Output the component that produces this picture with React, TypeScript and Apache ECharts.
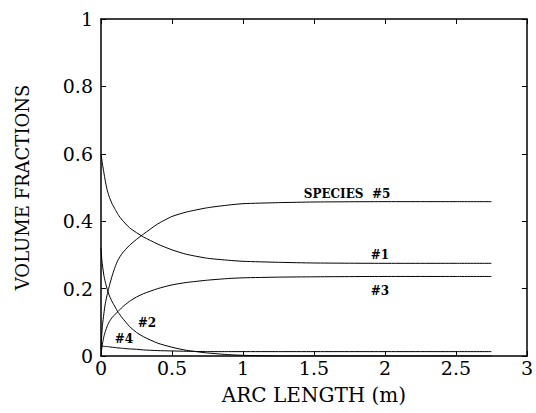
import React, { useEffect, useRef } from "react";
import * as echarts from "echarts";

const xs = [0, 0.005, 0.01, 0.02, 0.03, 0.045, 0.06, 0.08, 0.1, 0.12, 0.15, 0.2, 0.25, 0.3, 0.4, 0.5, 0.6, 0.75, 0.9, 1, 1.25, 1.5, 2, 2.5, 2.75];
const species1 = [0.6, 0.585, 0.57, 0.545, 0.52, 0.49, 0.47, 0.45, 0.435, 0.42, 0.403, 0.381, 0.366, 0.353, 0.332, 0.315, 0.302, 0.29, 0.284, 0.281, 0.278, 0.276, 0.275, 0.275, 0.275];
const species2 = [0.32, 0.29, 0.27, 0.24, 0.22, 0.196, 0.178, 0.16, 0.145, 0.13, 0.113, 0.088, 0.07, 0.057, 0.038, 0.026, 0.017, 0.009, 0.004, 0.002, 0, 0, 0, 0, 0];
const species3 = [0, 0.02, 0.035, 0.057, 0.072, 0.09, 0.103, 0.115, 0.124, 0.132, 0.145, 0.162, 0.175, 0.185, 0.2, 0.211, 0.218, 0.225, 0.23, 0.232, 0.234, 0.235, 0.236, 0.236, 0.236];
const species4 = [0.03, 0.03, 0.029, 0.029, 0.028, 0.028, 0.027, 0.026, 0.025, 0.024, 0.023, 0.021, 0.02, 0.018, 0.016, 0.015, 0.014, 0.013, 0.013, 0.013, 0.013, 0.013, 0.013, 0.013, 0.013];
const species5 = [0.02, 0.06, 0.09, 0.125, 0.155, 0.185, 0.21, 0.24, 0.265, 0.285, 0.305, 0.328, 0.346, 0.362, 0.392, 0.414, 0.427, 0.44, 0.448, 0.452, 0.455, 0.457, 0.458, 0.458, 0.458];

const seriesList = [
  { name: "#1", values: species1 },
  { name: "#2", values: species2 },
  { name: "#3", values: species3 },
  { name: "#4", values: species4 },
  { name: "#5", values: species5 },
];

const curveLabels = [
  { text: "SPECIES  #5", x: 347, y: 194 },
  { text: "#1", x: 380, y: 255 },
  { text: "#3", x: 380, y: 291 },
  { text: "#2", x: 147, y: 323 },
  { text: "#4", x: 124, y: 339 },
];

const FONT = "DejaVu Serif";

export default function App() {
  const ref = useRef<HTMLDivElement>(null);
  useEffect(() => {
    document.body.style.margin = "0";
    const chart = echarts.init(ref.current!, undefined, { renderer: "svg" });
    const axisCommon = {
      type: "value" as const,
      min: 0,
      axisLine: { show: true, onZero: false, lineStyle: { color: "#000", width: 1.5 } },
      axisTick: { show: true, inside: true, length: 5, lineStyle: { color: "#000" } },
      splitLine: { show: false },
    };
    chart.setOption({
      animation: false,
      backgroundColor: "#fff",
      textStyle: { fontFamily: FONT, color: "#000" },
      grid: { left: 101, top: 19, right: 7, bottom: 57 },
      xAxis: [
        {
          ...axisCommon,
          max: 3,
          interval: 0.5,
          position: "bottom",
          axisLabel: { color: "#000", fontFamily: FONT, fontSize: 19, margin: 2 },
          name: "ARC LENGTH (m)",
          nameLocation: "middle",
          nameGap: 29,
          nameTextStyle: { color: "#000", fontFamily: FONT, fontSize: 20 },
        },
        {
          ...axisCommon,
          max: 3,
          interval: 0.5,
          position: "top",
          axisLabel: { show: false },
        },
      ],
      yAxis: [
        {
          ...axisCommon,
          max: 1,
          interval: 0.2,
          position: "left",
          axisLabel: { color: "#000", fontFamily: FONT, fontSize: 19, margin: 8 },
          name: "VOLUME FRACTIONS",
          nameLocation: "middle",
          nameGap: 70,
          nameTextStyle: { color: "#000", fontFamily: FONT, fontSize: 18 },
        },
        {
          ...axisCommon,
          max: 1,
          interval: 0.2,
          position: "right",
          axisLabel: { show: false },
        },
      ],
      series: seriesList.map((s) => ({
        type: "line",
        name: s.name,
        data: xs.map((x, i) => [x, s.values[i]]),
        smooth: 0.2,
        showSymbol: false,
        symbol: "none",
        lineStyle: { color: "#000", width: 1 },
        xAxisIndex: 0,
        yAxisIndex: 0,
      })),
      graphic: curveLabels.map((l) => ({
        type: "text",
        x: l.x,
        y: l.y,
        style: {
          text: l.text,
          fill: "#000",
          font: `bold 12px ${FONT}`,
          textAlign: "center",
          textVerticalAlign: "middle",
        },
      })),
    });
    return () => chart.dispose();
  }, []);
  return <div ref={ref} style={{ width: 536, height: 413 }} />;
}
